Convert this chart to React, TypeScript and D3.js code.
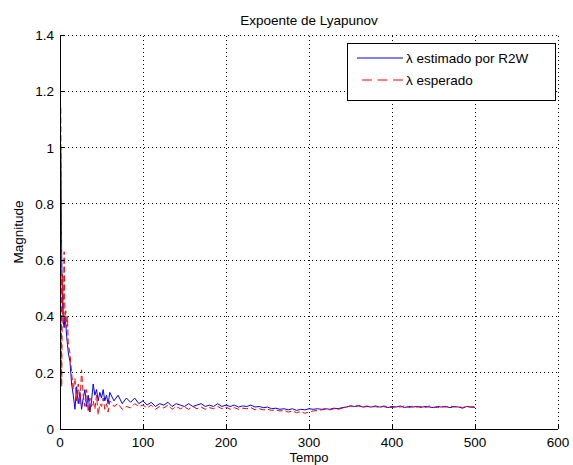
import React from "react";
import * as d3 from "d3";

// sampling instants (denser at the start where the curves move fast)
const tempo = [...d3.range(1, 11), ...d3.range(12, 61, 2), ...d3.range(65, 501, 5)];

// λ estimado por R2W (blue)
const estimado = [
  1.00, 0.62, 0.45, 0.38, 0.36, 0.40, 0.37, 0.33, 0.30, 0.27,
  0.24, 0.16, 0.12, 0.07, 0.15, 0.09, 0.13, 0.07, 0.11, 0.14,
  0.08, 0.12, 0.06, 0.10, 0.16, 0.12, 0.14, 0.10, 0.13, 0.11,
  0.14, 0.10, 0.12, 0.09, 0.13,
  0.10, 0.12, 0.09, 0.11, 0.095, 0.11, 0.09, 0.10, 0.085, 0.095,
  0.08, 0.09, 0.085, 0.095, 0.08, 0.09, 0.085, 0.08, 0.09, 0.08,
  0.085, 0.09, 0.08, 0.085, 0.08, 0.09, 0.08, 0.085, 0.08, 0.085,
  0.078, 0.082, 0.08, 0.085, 0.078, 0.08, 0.076, 0.078, 0.072, 0.074,
  0.07, 0.072, 0.068, 0.072, 0.066, 0.07, 0.068, 0.072, 0.07, 0.072,
  0.07, 0.072, 0.07, 0.074, 0.072, 0.076, 0.078, 0.082, 0.08, 0.082,
  0.078, 0.08, 0.078, 0.082, 0.078, 0.08, 0.076, 0.08, 0.078, 0.082,
  0.076, 0.08, 0.078, 0.08, 0.077, 0.08, 0.078, 0.076, 0.08, 0.078,
  0.08, 0.076, 0.08, 0.078, 0.074, 0.08, 0.078, 0.077,
];

// λ esperado (red dashed)
const esperado = [
  1.14, 0.15, 0.55, 0.40, 0.63, 0.38, 0.42, 0.36, 0.40, 0.30,
  0.27, 0.20, 0.14, 0.18, 0.10, 0.16, 0.09, 0.21, 0.12, 0.08,
  0.14, 0.06, 0.11, 0.08, 0.10, 0.07, 0.12, 0.05, 0.09, 0.08,
  0.11, 0.07, 0.09, 0.06, 0.10,
  0.08, 0.09, 0.07, 0.08, 0.075, 0.09, 0.08, 0.085, 0.075, 0.085,
  0.07, 0.08, 0.075, 0.085, 0.07, 0.08, 0.072, 0.078, 0.07, 0.08,
  0.072, 0.078, 0.07, 0.076, 0.072, 0.08, 0.072, 0.078, 0.07, 0.076,
  0.07, 0.074, 0.072, 0.076, 0.068, 0.072, 0.068, 0.07, 0.066, 0.068,
  0.064, 0.066, 0.06, 0.064, 0.058, 0.062, 0.056, 0.06, 0.064, 0.066,
  0.068, 0.07, 0.068, 0.072, 0.07, 0.074, 0.078, 0.082, 0.08, 0.084,
  0.078, 0.082, 0.078, 0.08, 0.076, 0.082, 0.078, 0.076, 0.08, 0.078,
  0.082, 0.076, 0.08, 0.078, 0.08, 0.076, 0.082, 0.078, 0.076, 0.08,
  0.078, 0.082, 0.078, 0.08, 0.076, 0.08, 0.078, 0.08,
];

const xTicks = [0, 100, 200, 300, 400, 500, 600];
const yTicks = [0, 0.2, 0.4, 0.6, 0.8, 1, 1.2, 1.4];
const legendLabels = ["λ estimado por R2W", "λ esperado"];

const W = 573;
const H = 465;
const font = "'Liberation Sans', Arial, Helvetica, sans-serif";

export default function App() {
  const x = d3.scaleLinear().domain([0, 600]).range([60, 558]);
  const y = d3.scaleLinear().domain([0, 1.4]).range([429, 35]);

  const line = d3
    .line<number>()
    .x((_, i) => x(tempo[i]))
    .y((d) => y(d));

  const [x0, x1] = x.range();
  const [y0, y1] = y.range();

  return (
    <svg
      width={W}
      height={H}
      style={{ position: "absolute", left: 0, top: 0, background: "#fff" }}
      fontFamily={font}
    >
      <rect width={W} height={H} fill="#fff" />

      {/* dotted grid */}
      <g stroke="#000" strokeWidth={1} strokeDasharray="1,3" shapeRendering="crispEdges">
        {xTicks.slice(1).map((t) => (
          <line key={"gx" + t} x1={x(t)} x2={x(t)} y1={y0} y2={y1} />
        ))}
        {yTicks.slice(1).map((t) => (
          <line key={"gy" + t} x1={x0} x2={x1} y1={y(t)} y2={y(t)} />
        ))}
      </g>

      {/* data */}
      <path d={line(estimado) || ""} fill="none" stroke="#0000ff" strokeWidth={1} />
      <path
        d={line(esperado) || ""}
        fill="none"
        stroke="#ff0000"
        strokeWidth={1}
        strokeDasharray="6,3"
      />

      {/* axes */}
      <g stroke="#000" strokeWidth={1} shapeRendering="crispEdges">
        <line x1={x0} x2={x1} y1={y0} y2={y0} />
        <line x1={x0} x2={x0} y1={y0} y2={y1} />
        {xTicks.map((t) => (
          <line key={"tx" + t} x1={x(t)} x2={x(t)} y1={y0} y2={y0 - 5} />
        ))}
        {yTicks.map((t) => (
          <line key={"ty" + t} x1={x0} x2={x0 + 5} y1={y(t)} y2={y(t)} />
        ))}
      </g>

      {/* tick labels */}
      <g fontSize={13.5} fill="#000">
        {xTicks.map((t) => (
          <text key={"lx" + t} x={x(t)} y={447} textAnchor="middle">
            {t}
          </text>
        ))}
        {yTicks.map((t) => (
          <text key={"ly" + t} x={54} y={y(t) + 5} textAnchor="end">
            {t}
          </text>
        ))}
      </g>

      {/* titles */}
      <text x={(x0 + x1) / 2} y={25} textAnchor="middle" fontSize={13.5}>
        Expoente de Lyapunov
      </text>
      <text x={(x0 + x1) / 2} y={462} textAnchor="middle" fontSize={13}>
        Tempo
      </text>
      <text
        transform={`translate(23,${(y0 + y1) / 2}) rotate(-90)`}
        textAnchor="middle"
        fontSize={13.5}
      >
        Magnitude
      </text>

      {/* legend */}
      <g>
        <rect x={347.5} y={43.5} width={208} height={57} fill="#fff" stroke="#000" />
        <line x1={357} x2={403} y1={58} y2={58} stroke="#0000ff" />
        <line x1={362} x2={403} y1={80} y2={80} stroke="#ff0000" strokeDasharray="10,5.5" />
        <text x={406} y={62.5} fontSize={13.5}>
          {legendLabels[0]}
        </text>
        <text x={406} y={84.5} fontSize={13.5}>
          {legendLabels[1]}
        </text>
      </g>
    </svg>
  );
}
